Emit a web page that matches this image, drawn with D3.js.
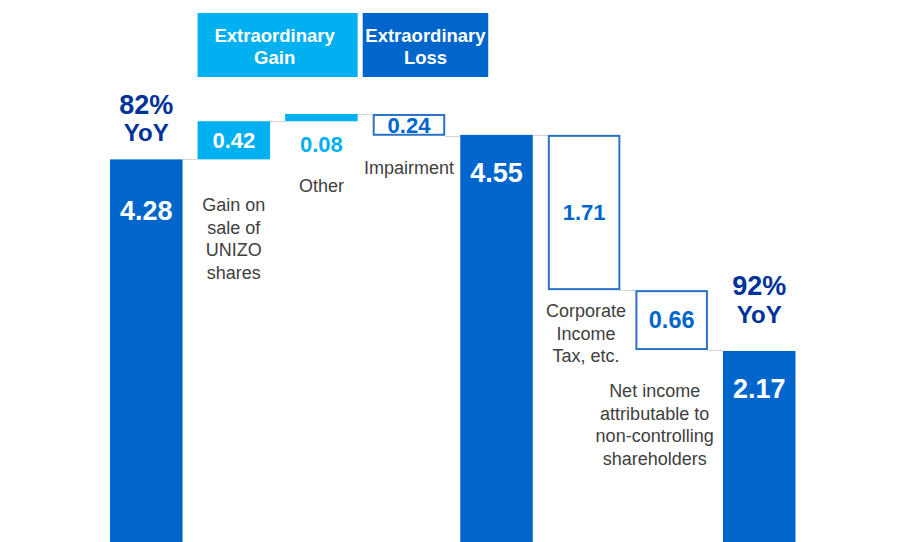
<!DOCTYPE html>
<html>
<head>
<meta charset="utf-8">
<script src="https://cdn.jsdelivr.net/npm/d3@7"></script>
<style>
  html, body { margin: 0; padding: 0; background: #fff; }
  svg { display: block; font-family: "Liberation Sans", Arial, sans-serif; }
</style>
</head>
<body>
<div id="chart"></div>
<script>
// waterfall data (billion yen)
const categories = ['start', 'gain', 'other', 'impairment', 'mid', 'tax', 'nci', 'end'];
const values = [4.28, 0.42, 0.08, -0.24, 4.55, -1.71, -0.66, 2.17];
const kinds = ['total', 'gain', 'gain', 'loss', 'total', 'loss', 'loss', 'total'];
const valueLabels = ['4.28', '0.42', '0.08', '0.24', '4.55', '1.71', '0.66', '2.17'];
const catLabels = [
  [],
  ['Gain on', 'sale of', 'UNIZO', 'shares'],
  ['Other'],
  ['Impairment'],
  [],
  ['Corporate', 'Income', 'Tax, etc.'],
  ['Net income', 'attributable to', 'non-controlling', 'shareholders'],
  []
];
const yoyLabels = { start: '82%', end: '92%' };
const legendLabels = [['Extraordinary', 'Gain'], ['Extraordinary', 'Loss']];

const width = 912, height = 542;
const DARK = '#0066cc', LIGHT = '#00b0f0', NAVY = '#003399', GREY = '#404040';

const svg = d3.select('#chart').append('svg')
  .attr('width', width)
  .attr('height', height);

const x = d3.scaleBand()
  .domain(categories)
  .range([102.5, 803])
  .paddingInner(0.172)
  .paddingOuter(0.086);

const y = d3.scaleLinear()
  .domain([0, 5])
  .range([548, 94]);

// compute running totals
let run = 0;
const bars = categories.map((c, i) => {
  let lo, hi;
  if (kinds[i] === 'total') {
    lo = 0; hi = values[i]; run = values[i];
  } else {
    const next = run + values[i];
    lo = Math.min(run, next); hi = Math.max(run, next);
    run = next;
  }
  return { cat: c, kind: kinds[i], lo, hi, end: run, label: valueLabels[i], lines: catLabels[i] };
});

const bw = x.bandwidth();

// connectors
svg.append('g').selectAll('line')
  .data(bars.slice(0, -1))
  .enter()
  .append('line')
  .attr('x1', (d) => x(d.cat) + bw)
  .attr('x2', (d, i) => x(bars[i + 1].cat))
  .attr('y1', (d) => Math.round(y(d.end)) + 0.5)
  .attr('y2', (d) => Math.round(y(d.end)) + 0.5)
  .attr('stroke', '#d4d4d4')
  .attr('stroke-width', 1);

// bars
svg.append('g').selectAll('rect')
  .data(bars)
  .enter()
  .append('rect')
  .attr('x', (d) => d.kind === 'loss' ? x(d.cat) + 1 : x(d.cat))
  .attr('y', (d) => d.kind === 'loss' ? y(d.hi) + 1 : y(d.hi))
  .attr('width', (d) => d.kind === 'loss' ? bw - 2 : bw)
  .attr('height', (d) => d.kind === 'loss' ? y(d.lo) - y(d.hi) - 2 : y(d.lo) - y(d.hi))
  .attr('fill', (d) => d.kind === 'total' ? DARK : d.kind === 'gain' ? LIGHT : '#fff')
  .attr('stroke', (d) => d.kind === 'loss' ? '#2a72c8' : 'none')
  .attr('stroke-width', 2);

// value labels
svg.append('g').selectAll('text')
  .data(bars)
  .enter()
  .append('text')
  .attr('x', (d) => x(d.cat) + bw / 2)
  .attr('y', (d) => {
    if (d.kind === 'total') return y(d.hi) + (d.cat === 'start' ? 61 : 47);
    if (d.cat === 'other') return y(d.lo) + 31;
    return (y(d.lo) + y(d.hi)) / 2 + 8;
  })
  .attr('text-anchor', 'middle')
  .attr('font-weight', 'bold')
  .attr('font-size', (d) => d.kind === 'total' ? 27 : d.cat === 'nci' ? 23.5 : 22)
  .attr('fill', (d) => {
    if (d.kind === 'total') return '#fff';
    if (d.cat === 'other') return LIGHT;
    if (d.kind === 'gain') return '#fff';
    return DARK;
  })
  .text((d) => d.label);

// category annotations
const annoDy = { gain: 52, other: 71, impairment: 38, tax: 27, nci: 47 };
const annoDx = { nci: -17, tax: 2 };
svg.append('g').selectAll('text')
  .data(bars.filter((d) => d.lines.length))
  .enter()
  .append('text')
  .attr('text-anchor', 'middle')
  .attr('font-size', 18)
  .attr('fill', GREY)
  .each((d, i, nodes) => {
    const g = d3.select(nodes[i]);
    const cx = x(d.cat) + bw / 2 + (annoDx[d.cat] || 0);
    const base = y(d.lo) + annoDy[d.cat];
    d.lines.forEach((l, k) => {
      g.append('tspan')
        .attr('x', cx)
        .attr('y', base + k * 22.5)
        .text(l);
    });
  });

// YoY labels above totals
const yoyDy = { start: [-45, -18], end: [-56, -28] };
Object.keys(yoyLabels).forEach((c) => {
  const b = bars.find((d) => d.cat === c);
  const cx = x(c) + bw / 2;
  svg.append('text')
    .attr('x', cx)
    .attr('y', y(b.hi) + yoyDy[c][0])
    .attr('text-anchor', 'middle')
    .attr('font-weight', 'bold')
    .attr('font-size', 27)
    .attr('fill', NAVY)
    .text(yoyLabels[c]);
  svg.append('text')
    .attr('x', cx)
    .attr('y', y(b.hi) + yoyDy[c][1])
    .attr('text-anchor', 'middle')
    .attr('font-weight', 'bold')
    .attr('font-size', 24)
    .attr('fill', NAVY)
    .text('YoY');
});

// legend boxes on top
const legend = [
  { x0: x('gain'), x1: x('other') + bw, fill: LIGHT, lines: legendLabels[0] },
  { x0: x('impairment') - 10, x1: x('impairment') + bw + 43, fill: DARK, lines: legendLabels[1] }
];
const lg = svg.append('g').selectAll('g')
  .data(legend)
  .enter()
  .append('g');
lg.append('rect')
  .attr('x', (d) => d.x0)
  .attr('y', 13)
  .attr('width', (d) => d.x1 - d.x0)
  .attr('height', 64)
  .attr('fill', (d) => d.fill);
lg.append('text')
  .attr('text-anchor', 'middle')
  .attr('font-weight', 'bold')
  .attr('font-size', 18.5)
  .attr('fill', '#fff')
  .each((d, i, nodes) => {
    const t = d3.select(nodes[i]);
    d.lines.forEach((l, k) => {
      t.append('tspan')
        .attr('x', (d.x0 + d.x1) / 2 - (i === 0 ? 3 : 0))
        .attr('y', 42 + k * 21.5)
        .text(l);
    });
  });
</script>
</body>
</html>
